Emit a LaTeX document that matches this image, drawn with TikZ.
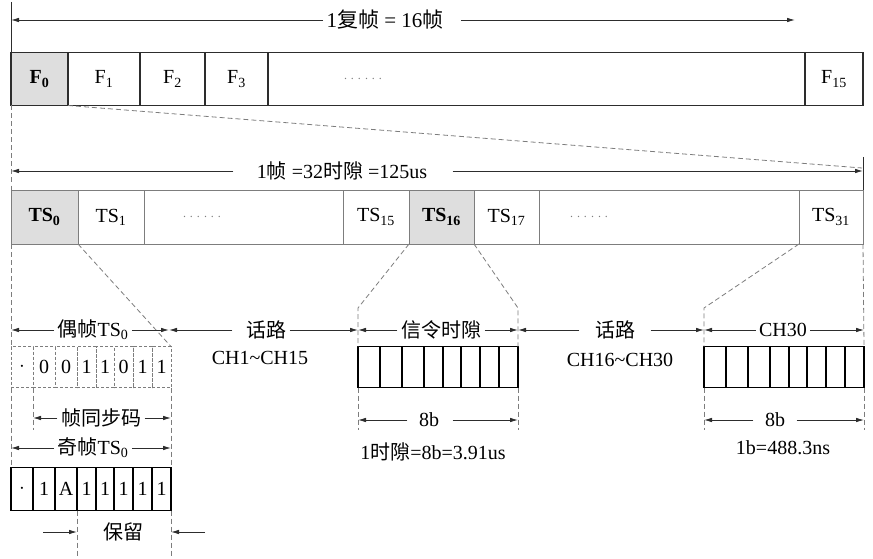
\documentclass[tikz,border=0pt]{standalone}
\usepackage{fontspec}
\setmainfont{Liberation Serif}
\newfontfamily\cjk{Noto Sans CJK SC}
\usetikzlibrary{positioning,arrows.meta}
\definecolor{myline}{RGB}{45,45,45}
\definecolor{mygray}{RGB}{125,125,125}
\definecolor{myshade}{RGB}{222,222,222}
\newcommand{\zh}[1]{{\cjk #1}}
\tikzset{
  fcell/.style={draw=myline, line width=1.4pt, minimum height=53pt, inner sep=0pt, outer sep=0pt},
  tscell/.style={draw=mygray, line width=1pt, minimum height=54pt, inner sep=0pt, outer sep=0pt},
  evencell/.style={draw=mygray, densely dashed, line width=0.9pt, minimum height=41pt, inner sep=0pt, outer sep=0pt},
  bitcell/.style={draw=black, line width=1.4pt, minimum height=41pt, inner sep=0pt, outer sep=0pt},
  guide/.style={draw=mygray, dash pattern=on 5pt off 3pt, line width=0.8pt},
  dimarrow/.style={-{Latex[length=8pt,width=4.5pt]}, draw=myline, line width=0.8pt},
  dotrow/.style={text=mygray, font=\fontsize{12}{13}\selectfont}
}
\begin{document}
\begin{tikzpicture}[x=1pt, y=-1pt, font=\fontsize{20}{23}\selectfont]
  \useasboundingbox (0,0) rectangle (873,559);

  % 1 multiframe
  \node[fcell, fill=myshade, minimum width=57pt, anchor=west] (F0) at (11,79) {\textbf{F\textsubscript{0}}};
  \node[fcell, minimum width=72pt, right=0pt of F0] (F1) {F\textsubscript{1}};
  \node[fcell, minimum width=65pt, right=0pt of F1] (F2) {F\textsubscript{2}};
  \node[fcell, minimum width=63pt, right=0pt of F2] (F3) {F\textsubscript{3}};
  \node[fcell, minimum width=537pt, right=0pt of F3] (Fmid) {};
  \node[fcell, minimum width=58pt, right=0pt of Fmid] (F15) {F\textsubscript{15}};
  \node[dotrow] (fdots) at (363,79) {. . . . . .};

  % 1 frame
  \node[tscell, fill=myshade, minimum width=67pt, anchor=west] (TS0) at (11,217) {\textbf{TS\textsubscript{0}}};
  \node[tscell, minimum width=66pt, right=0pt of TS0] (TS1) {TS\textsubscript{1}};
  \node[tscell, minimum width=199pt, right=0pt of TS1] (TSa) {};
  \node[tscell, minimum width=66pt, right=0pt of TSa] (TS15) {TS\textsubscript{15}};
  \node[tscell, fill=myshade, minimum width=65pt, right=0pt of TS15] (TS16) {\textbf{TS\textsubscript{16}}};
  \node[tscell, minimum width=65pt, right=0pt of TS16] (TS17) {TS\textsubscript{17}};
  \node[tscell, minimum width=260pt, right=0pt of TS17] (TSb) {};
  \node[tscell, minimum width=64pt, right=0pt of TSb] (TS31) {TS\textsubscript{31}};
  \node[dotrow] (tdots1) at (202,217) {. . . . . .};
  \node[dotrow] (tdots2) at (589,217) {. . . . . .};

  % bit boxes
  \node[evencell, minimum width=22pt, anchor=west] (e0) at (11,367) {$\cdot$};
  \foreach \b/\w [count=\i, remember=\i as \j (initially 0)] in {0/22,0/22,1/19,1/18,0/19,1/19,1/19}
    \node[evencell, minimum width=\w pt, right=0pt of e\j] (e\i) {\b};
  \node[bitcell, minimum width=22pt, minimum height=43pt, anchor=west] (o0) at (11,489) {$\cdot$};
  \foreach \b/\w [count=\i, remember=\i as \j (initially 0)] in {1/22,A/22,1/19,1/18,1/19,1/19,1/19}
    \node[bitcell, minimum width=\w pt, minimum height=43pt, right=0pt of o\j] (o\i) {\b};
  \node[bitcell, minimum width=22pt, anchor=west] (s0) at (358,367) {};
  \foreach \w [count=\i, remember=\i as \j (initially 0)] in {22,22,19,18,19,19,19}
    \node[bitcell, minimum width=\w pt, right=0pt of s\j] (s\i) {};
  \node[bitcell, minimum width=22pt, anchor=west] (c0) at (704,367) {};
  \foreach \w [count=\i, remember=\i as \j (initially 0)] in {22,22,19,18,19,19,19}
    \node[bitcell, minimum width=\w pt, right=0pt of c\j] (c\i) {};

  % guide lines
  \coordinate (ytk) at (0,157);
  \coordinate (fr) at (862,168);
  \coordinate (yk) at (0,308);
  \coordinate (yd) at (0,430);
  \coordinate (yb) at (0,557);
  \draw[guide] (F0.south east) -- (fr);
  \draw[myline, line width=0.8pt] (TS31.north east |- ytk) -- (TS31.north east);
  \draw[guide] (F0.south west) -- (TS0.north west);
  \draw[guide] (TS0.south west) -- (e0.north west);
  \draw[guide] (e0.south west) -- (o0.north west);
  \draw[guide] (TS0.south east) -- (e7.north east);
  \draw[guide] (e7.south east) -- (o7.north east);
  \draw[guide] (o7.south east) -- (o7.south east |- yb);
  \draw[guide] (o2.south east) -- (o2.south east |- yb);
  \draw[guide] (e0.south east) -- (e0.south east |- yd);
  \draw[guide] (TS16.south west) -- (s0.north west |- yk) -- (s0.north west);
  \draw[guide] (s0.south west) -- (s0.south west |- yd);
  \draw[guide] (TS17.south west) -- (s7.north east |- yk) -- (s7.north east);
  \draw[guide] (s7.south east) -- (s7.south east |- yd);
  \draw[guide] (TS31.south west) -- (c0.north west |- yk) -- (c0.north west);
  \draw[guide] (c0.south west) -- (c0.south west |- yd);
  \draw[guide] (TS31.south east) -- (c7.north east);
  \draw[guide] (c7.south east) -- (c7.south east |- yd);

  % top dimensions
  \coordinate (tl) at (11,2);
  \coordinate (tr) at (795,20);
  \node[font=\fontsize{21}{23}\selectfont] (nf) at (385,20) {1\zh{复帧} = 16\zh{帧}};
  \draw[myline, line width=0.8pt] (tl) -- (F0.north west);
  \draw[dimarrow] (nf.west) -- (nf.west -| tl);
  \draw[dimarrow] ([xshift=14pt]nf.east) -- (tr);
  \node (nz) at (342,171) {1\zh{帧} =32\zh{时隙} =125us};
  \draw[dimarrow] ([xshift=-20pt]nz.west) -- (nz.west -| TS0.west);
  \draw[dimarrow] ([xshift=22pt]nz.east) -- (nz.east -| TS31.east);

  % channel labels
  \node (even) at (93,330) {\zh{偶帧}TS\textsubscript{0}};
  \draw[dimarrow] (even.west) -- (even.west -| e0.west);
  \draw[dimarrow, shorten >=2pt] (even.east) -- (even.east -| e7.east);
  \node (hl1) at (266,330) {\zh{话路}};
  \draw[dimarrow, shorten >=-2pt] ([xshift=-10pt]hl1.west) -- (hl1.west -| e7.east);
  \draw[dimarrow] (hl1.east) -- (hl1.east -| s0.west);
  \node (ch1) at (260,358) {CH1\textasciitilde CH15};
  \node (sl) at (441,330) {\zh{信令时隙}};
  \draw[dimarrow] (sl.west) -- (sl.west -| s0.west);
  \draw[dimarrow] (sl.east) -- (sl.east -| s7.east);
  \node (hl2) at (615,330) {\zh{话路}};
  \draw[dimarrow] ([xshift=-12pt]hl2.west) -- (hl2.west -| s7.east);
  \draw[dimarrow] ([xshift=12pt]hl2.east) -- (hl2.east -| c0.west);
  \node (ch2) at (620,360) {CH16\textasciitilde CH30};
  \node (ch30) at (783,330) {CH30};
  \draw[dimarrow] (ch30.west) -- (ch30.west -| c0.west);
  \draw[dimarrow] (ch30.east) -- (ch30.east -| c7.east);

  % bit labels
  \node (sync) at (101,418) {\zh{帧同步码}};
  \draw[dimarrow] (sync.west) -- (sync.west -| e1.west);
  \draw[dimarrow] (sync.east) -- (sync.east -| e7.east);
  \node (odd) at (93,448) {\zh{奇帧}TS\textsubscript{0}};
  \draw[dimarrow] (odd.west) -- (odd.west -| o0.west);
  \draw[dimarrow] (odd.east) -- (odd.east -| o7.east);
  \node (bl) at (123,532) {\zh{保留}};
  \coordinate (rsL) at (43,532);
  \coordinate (rsR) at (205,532);
  \draw[dimarrow] (rsL) -- (rsL -| o2.east);
  \draw[dimarrow] (rsR) -- (rsR -| o7.east);
  \node (b1) at (429,420) {8b};
  \draw[dimarrow] ([xshift=-8pt]b1.west) -- (b1.west -| s0.west);
  \draw[dimarrow] ([xshift=10pt]b1.east) -- (b1.east -| s7.east);
  \node (t1) at (433,452) {1\zh{时隙}=8b=3.91us};
  \node (b2) at (775,420) {8b};
  \draw[dimarrow] ([xshift=-8pt]b2.west) -- (b2.west -| c0.west);
  \draw[dimarrow] ([xshift=8pt]b2.east) -- (b2.east -| c7.east);
  \node (t2) at (783,448) {1b=488.3ns};
\end{tikzpicture}
\end{document}
